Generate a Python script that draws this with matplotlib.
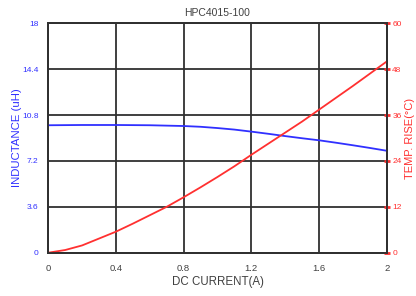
import matplotlib
matplotlib.use("Agg")
import matplotlib.pyplot as plt

plt.rcParams['font.family'] = ['Liberation Sans', 'DejaVu Sans']

# values
current = [0.0, 0.1, 0.2, 0.3, 0.4, 0.5, 0.6, 0.7, 0.8, 0.9, 1.0, 1.1, 1.2,
           1.3, 1.4, 1.5, 1.6, 1.7, 1.8, 1.9, 2.0]
inductance = [10.0, 10.01, 10.02, 10.02, 10.02, 10.01, 10.0, 9.97, 9.94, 9.88,
              9.78, 9.66, 9.5, 9.33, 9.15, 8.98, 8.82, 8.63, 8.43, 8.22, 8.0]
temp_rise = [0.0, 0.7, 1.9, 3.7, 5.5, 7.6, 9.8, 12.0, 14.5, 17.1, 19.8, 22.6,
             25.6, 28.5, 31.4, 34.3, 37.4, 40.5, 43.6, 46.8, 50.0]

x_ticks = [0, 0.4, 0.8, 1.2, 1.6, 2]
x_labels = ['0', '0.4', '0.8', '1.2', '1.6', '2']
l_ticks = [0, 3.6, 7.2, 10.8, 14.4, 18]
l_labels = ['0', '3.6', '7.2', '10.8', '14.4', '18']
r_ticks = [0, 12, 24, 36, 48, 60]

blue = '#3030ff'
red = '#ff3030'
grid_c = '#303030'
text_c = '#404040'

fig = plt.figure(figsize=(4.16, 2.96), dpi=100)
ax = fig.add_axes([0.116, 0.1463, 0.8135, 0.775])
ax2 = ax.twinx()

ax.set_xlim(0, 2)
ax.set_ylim(0, 18)
ax2.set_ylim(0, 60)

ax.set_xticks(x_ticks)
ax.set_xticklabels(x_labels)
ax.set_yticks(l_ticks)
ax.set_yticklabels(l_labels)
ax2.set_yticks(r_ticks)

ax.grid(True, color=grid_c, linewidth=1.3)
ax.set_axisbelow(True)
for a in (ax, ax2):
    for s in a.spines.values():
        s.set_color(grid_c)
        s.set_linewidth(1.3)

ax.tick_params(axis='x', length=0, pad=8, labelsize=6.8, labelcolor=text_c)
ax.tick_params(axis='y', length=0, pad=7, labelsize=6, labelcolor=blue)
ax2.tick_params(axis='y', direction='inout', length=4, width=2, color=red,
                pad=2, labelsize=6, labelcolor=red)

ax2.plot(current, temp_rise, color=red, linewidth=1.3)
ax.plot(current, inductance, color=blue, linewidth=1.3, zorder=3)

ax.set_title('HPC4015-100', fontsize=7.5, color=text_c, pad=5)
ax.set_xlabel('DC CURRENT(A)', fontsize=8.3, color=text_c, labelpad=2)
ax.set_ylabel('INDUCTANCE (uH)', fontsize=8.2, color=blue, va='center')
ax.yaxis.set_label_coords(-0.092, 0.5)
ax2.set_ylabel('TEMP. RISE(°C)', fontsize=8, color=red, va='center')
ax2.yaxis.set_label_coords(1.068, 0.5)

fig.savefig('out.png', dpi=100)
